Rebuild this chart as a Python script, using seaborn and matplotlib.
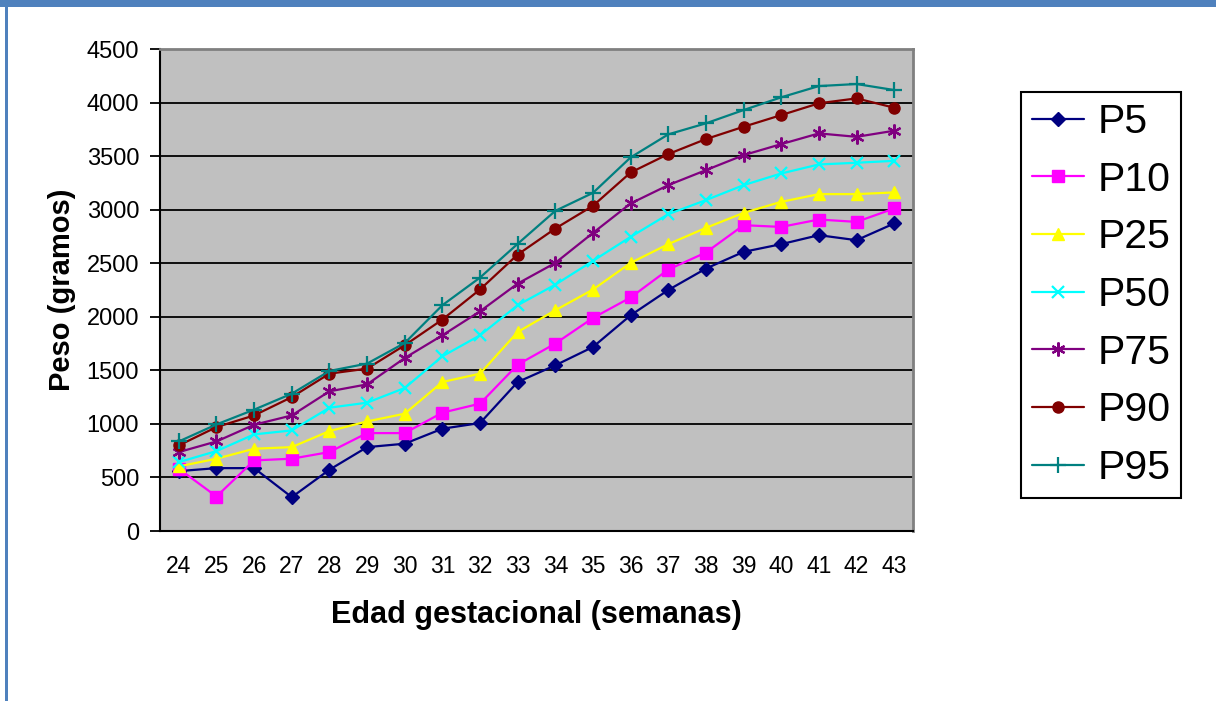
import numpy as np
import pandas as pd
import matplotlib
matplotlib.use("Agg")
import matplotlib.pyplot as plt
from matplotlib.patches import Rectangle
from matplotlib.ticker import FixedLocator, NullFormatter
import seaborn as sns

# Gestational age in weeks
semanas = list(range(24, 44))

# Birth-weight percentiles (grams) per gestational week
p5 = [559, 587, 587, 316, 572, 783, 815, 955, 1008, 1391, 1547, 1718, 2014, 2250,
      2450, 2606, 2678, 2762, 2715, 2871]
p10 = [581, 322, 659, 675, 737, 914, 914, 1105, 1189, 1553, 1750, 1989, 2180, 2441,
       2600, 2855, 2839, 2908, 2886, 3011]
p25 = [603, 675, 768, 783, 933, 1023, 1095, 1391, 1469, 1858, 2061, 2254, 2503, 2678,
       2830, 2970, 3073, 3145, 3145, 3161]
p50 = [643, 746, 902, 939, 1151, 1198, 1335, 1631, 1827, 2108, 2300, 2522, 2746, 2958,
       3089, 3229, 3338, 3422, 3438, 3456]
p75 = [737, 836, 992, 1079, 1304, 1369, 1615, 1827, 2051, 2310, 2503, 2783, 3058, 3229,
       3369, 3509, 3612, 3712, 3680, 3737]
p90 = [799, 970, 1079, 1250, 1469, 1516, 1734, 1974, 2255, 2581, 2824, 3036, 3347, 3519,
       3659, 3774, 3883, 3993, 4039, 3952]
p95 = [836, 995, 1133, 1282, 1494, 1563, 1755, 2108, 2366, 2681, 2989, 3157, 3488, 3703,
       3806, 3930, 4049, 4154, 4173, 4117]

series_names = ["P5", "P10", "P25", "P50", "P75", "P90", "P95"]
series_values = [p5, p10, p25, p50, p75, p90, p95]

colors = {"P5": "#000080", "P10": "#FF00FF", "P25": "#FFFF00", "P50": "#00FFFF",
          "P75": "#800080", "P90": "#800000", "P95": "#008080"}
star = (6, 2, 0)
markers = {"P5": "D", "P10": "s", "P25": "^", "P50": "x",
           "P75": star, "P90": "o", "P95": "+"}
msizes = {"P5": 7, "P10": 8, "P25": 9, "P50": 9, "P75": 10, "P90": 8, "P95": 11}

sns.set_theme(style="white")
plt.rcParams["font.family"] = ["Liberation Sans", "DejaVu Sans"]

W, H = 1216, 701
fig = plt.figure(figsize=(W / 100, H / 100), dpi=100)
fig.patch.set_facecolor("white")

left, right, top, bottom = 160, 913, 49, 531
ax = fig.add_axes([left / W, 1 - bottom / H, (right - left) / W, (bottom - top) / H])
ax.set_facecolor("#C0C0C0")

handles = []
for name, vals in zip(series_names, series_values):
    df = pd.DataFrame({"semana": semanas, "peso": vals})
    sns.lineplot(data=df, x="semana", y="peso", color=colors[name],
                 marker=markers[name], markersize=msizes[name],
                 markeredgecolor=colors[name], markerfacecolor=colors[name],
                 markeredgewidth=1.6 if name in ("P50", "P75", "P95") else 1.0,
                 linewidth=1.6, ax=ax, zorder=3, label=name, legend=False)
    handles.append(ax.get_lines()[-1])

ax.set_xlim(23.5, 43.5)
ax.set_ylim(0, 4500)
ax.set_yticks(np.arange(0, 4501, 500))
ax.yaxis.grid(True, color="black", linewidth=1.3)
ax.set_axisbelow(True)

ax.set_xticks(semanas)
ax.set_xticklabels([str(s) for s in semanas])
ax.xaxis.set_minor_locator(FixedLocator(np.arange(23.5, 44, 1)))
ax.xaxis.set_minor_formatter(NullFormatter())
ax.tick_params(axis="x", which="major", length=0, labelsize=16.5, pad=17)
ax.tick_params(axis="x", which="minor", length=7, width=1.3, color="black", direction="out")
ax.tick_params(axis="y", which="major", length=7, width=1.3, color="black",
               direction="out", labelsize=17, pad=8, left=True)
for lab in ax.get_xticklabels() + ax.get_yticklabels():
    lab.set_color("black")

for side in ("left", "bottom"):
    ax.spines[side].set_color("black")
    ax.spines[side].set_linewidth(1.5)
for side in ("top", "right"):
    ax.spines[side].set_color("#808080")
    ax.spines[side].set_linewidth(2)
    ax.spines[side].set_visible(True)

ax.set_xlabel("Edad gestacional (semanas)", fontsize=22, fontweight="bold",
              color="black", labelpad=16)
ax.set_ylabel("Peso (gramos)", fontsize=21, fontweight="bold",
              color="black", labelpad=8)

# legend built from the drawn lines
leg = fig.legend(handles, series_names, loc="upper left",
                 bbox_to_anchor=(1021 / W, 1 - 92 / H), fontsize=29.5,
                 frameon=True, fancybox=False, edgecolor="black", framealpha=1,
                 handlelength=1.27, handletextpad=0.32, labelspacing=0.48,
                 borderpad=0.27, borderaxespad=0)
leg.get_frame().set_linewidth(1.5)
for t in leg.get_texts():
    t.set_color("black")

# blue page frame
fig.add_artist(Rectangle((0, 1 - 7 / H), 1, 7 / H, transform=fig.transFigure,
                         facecolor="#4F81BD", edgecolor="none"))
fig.add_artist(Rectangle((5 / W, 0), 3 / W, 1, transform=fig.transFigure,
                         facecolor="#4F81BD", edgecolor="none"))

fig.savefig("out.png", dpi=100)
